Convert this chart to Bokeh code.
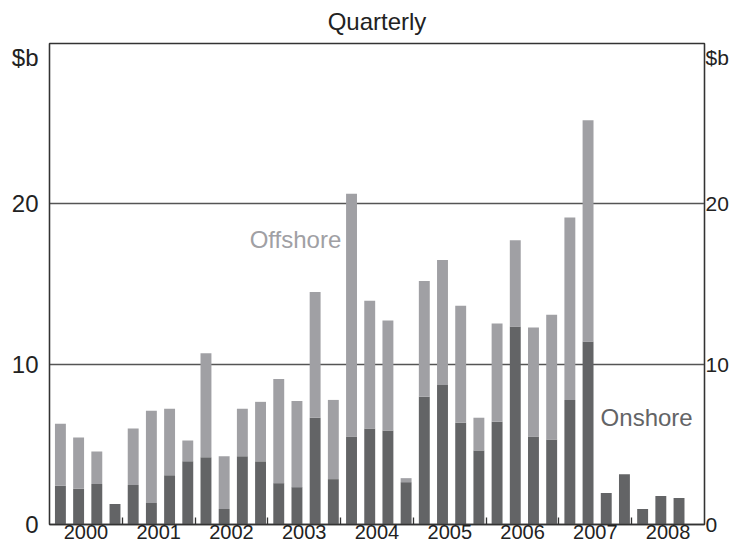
from bokeh.plotting import figure
from bokeh.models import Range1d, FixedTicker, LinearAxis, Label, ColumnDataSource
from bokeh.embed import file_html
from bokeh.resources import INLINE

# ---- data (A$ billion, quarterly, 2000 Q1 - 2008 Q3) ----
years = ["2000", "2001", "2002", "2003", "2004", "2005", "2006", "2007", "2008"]
quarters = [f"{y} Q{q}" for y in years for q in (1, 2, 3, 4)][:35]
onshore = [2.41, 2.23, 2.52, 1.28,
           2.46, 1.34, 3.07, 3.94,
           4.19, 0.97, 4.25, 3.94,
           2.58, 2.33, 6.66, 2.83,
           5.49, 5.98, 5.86, 2.64,
           7.96, 8.70, 6.35, 4.62,
           6.41, 12.35, 5.49, 5.30,
           7.77, 11.42, 1.96, 3.14,
           0.97, 1.77, 1.65]
offshore = [3.88, 3.19, 2.04, 0.00,
            3.52, 5.75, 4.15, 1.30,
            6.49, 3.28, 2.97, 3.71,
            6.49, 5.38, 7.84, 4.94,
            15.14, 7.98, 6.86, 0.25,
            7.23, 7.79, 7.29, 2.04,
            6.12, 5.38, 6.79, 7.78,
            11.38, 13.79, 0.00, 0.00,
            0.00, 0.00, 0.00]
y_ticks = [0, 10, 20]
unit_label = "$b"
unit_pos = 29.14

DARK = "#636466"
LIGHT = "#a0a0a4"
TEXT = "#222222"
LINE = "#333333"
FONT = "Liberation Sans"

src = ColumnDataSource(dict(
    x=[i + 0.6 for i in range(len(quarters))],
    quarter=quarters,
    onshore=onshore,
    offshore=offshore,
))

nq = 4 * len(years)
p = figure(width=731, height=541, x_range=Range1d(0, nq), y_range=Range1d(0, 30),
           output_backend="svg", toolbar_location=None,
           min_border_left=49, min_border_right=24, min_border_top=42, min_border_bottom=0)

p.vbar_stack(["onshore", "offshore"], x="x", width=0.6, source=src,
             fill_color=[DARK, LIGHT], line_color=None)

# title
p.title.text = "Quarterly"
p.title.align = "center"
p.title.vertical_align = "top"
p.title.text_font = FONT
p.title.text_font_size = "24px"
p.title.text_font_style = "normal"
p.title.text_color = TEXT
p.title.standoff = 14

# frame
p.outline_line_color = LINE
p.outline_line_width = 1.3
p.background_fill_color = "white"
p.border_fill_color = "white"

# grids
p.xgrid.visible = False
p.ygrid.ticker = FixedTicker(ticks=[10, 20])
p.ygrid.grid_line_color = "#555555"
p.ygrid.grid_line_width = 1.3

# x axis: year labels at year centres, small ticks at year boundaries
xa = p.xaxis[0]
centres = [4 * k + 2 for k in range(len(years))]
bounds = [4 * k for k in range(1, len(years))]
xa.ticker = FixedTicker(ticks=centres, minor_ticks=bounds)
xa.major_label_overrides = {c: yr for c, yr in zip(centres, years)}
xa.major_label_text_font = FONT
xa.major_label_text_font_size = "20px"
xa.major_label_text_color = TEXT
xa.major_label_standoff = 0
xa.major_tick_line_color = None
xa.major_tick_in = 0
xa.major_tick_out = 0
xa.minor_tick_in = 7
xa.minor_tick_out = 0
xa.minor_tick_line_color = LINE
xa.minor_tick_line_width = 1.3
xa.axis_line_color = LINE
xa.axis_line_width = 1.5

# y axes (the unit label sits as a tick label near the top)
def style_y(ax, standoff, size):
    ax.ticker = FixedTicker(ticks=y_ticks + [unit_pos])
    ax.major_label_overrides = {unit_pos: unit_label}
    ax.major_tick_in = 0
    ax.major_tick_out = 0
    ax.major_tick_line_color = None
    ax.minor_tick_line_color = None
    ax.axis_line_color = LINE
    ax.axis_line_width = 1.3
    ax.major_label_text_font = FONT
    ax.major_label_text_font_size = size
    ax.major_label_text_color = TEXT
    ax.major_label_standoff = standoff

style_y(p.yaxis[0], 11, "24px")
ra = LinearAxis()
style_y(ra, 1, "21px")
p.add_layout(ra, "right")

# series labels
p.add_layout(Label(x=11.0, y=17.79, text="Offshore", text_align="left", text_baseline="middle",
                   text_font=FONT, text_font_size="24px", text_color=LIGHT))
p.add_layout(Label(x=30.29, y=6.68, text="Onshore", text_align="left", text_baseline="middle",
                   text_font=FONT, text_font_size="24px", text_color=DARK))

open("out.html", "w").write(file_html(p, INLINE))
